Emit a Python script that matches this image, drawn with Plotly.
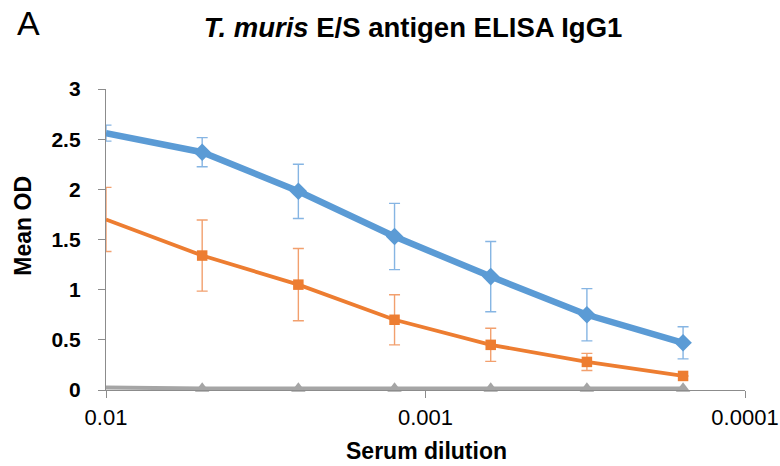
import plotly.graph_objects as go

# Serum dilutions (two-fold series starting at 1:100)
dilution = [0.01, 0.005, 0.0025, 0.00125, 0.000625, 0.0003125, 0.00015625]

# Mean OD per group with error bar half-widths
blue_od = [2.56, 2.37, 1.98, 1.53, 1.13, 0.75, 0.47]
blue_err = [0.08, 0.145, 0.27, 0.33, 0.35, 0.26, 0.16]
orange_od = [1.70, 1.34, 1.05, 0.70, 0.45, 0.28, 0.14]
orange_err = [0.32, 0.355, 0.36, 0.25, 0.165, 0.085, 0.0]
gray_od = [0.025, 0.015, 0.015, 0.015, 0.015, 0.015, 0.015]

x_tickvals = [0.01, 0.001, 0.0001]
x_ticktext = ["0.01", "0.001", "0.0001"]
y_tickvals = [0, 0.5, 1, 1.5, 2, 2.5, 3]
y_ticktext = ["0", "0.5", "1", "1.5", "2", "2.5", "3"]

BLUE = "#5B9BD5"
ORANGE = "#ED7D31"
GRAY = "#A5A5A5"
AXIS = "#8C8C8C"
FONT = "Liberation Sans"

# plot area in pixels
W, H = 780, 466
L, R, T, B = 105.5, 34.5, 89, 76
PW, PH = W - L - R, H - T - B


def px_x(x):
    return (x - L) / PW


def px_y(y):
    return (H - B - y) / PH


fig = go.Figure()

fig.add_trace(go.Scatter(
    x=dilution, y=gray_od, mode="lines+markers",
    line=dict(color=GRAY, width=4),
    marker=dict(symbol="triangle-up", size=12.5, color=GRAY),
    showlegend=False, cliponaxis=False,
))
fig.add_trace(go.Scatter(
    x=dilution, y=orange_od, mode="lines+markers",
    line=dict(color=ORANGE, width=3.8),
    marker=dict(symbol="square", size=10.5, color=ORANGE),
    error_y=dict(type="data", array=orange_err, visible=True,
                 color="#F2A06E", thickness=1.4, width=5.5),
    showlegend=False, cliponaxis=False,
))
fig.add_trace(go.Scatter(
    x=dilution, y=blue_od, mode="lines+markers",
    line=dict(color=BLUE, width=6.5),
    marker=dict(symbol="diamond", size=13.5, color=BLUE),
    error_y=dict(type="data", array=blue_err, visible=True,
                 color="#86B5E3", thickness=1.4, width=5.5),
    showlegend=False, cliponaxis=False,
))

fig.update_layout(
    width=W, height=H,
    margin=dict(l=L, r=R, t=T, b=B),
    paper_bgcolor="white", plot_bgcolor="white",
    font=dict(family=FONT, color="black"),
    title=dict(
        text="<b><i>T. muris</i> E/S antigen ELISA IgG1</b>",
        x=413 / W, xanchor="center", y=1 - 27 / H, yanchor="middle",
        font=dict(size=27.5, family=FONT, color="black"),
    ),
    xaxis=dict(
        type="log", range=[-2, -4], automargin=False,
        tickvals=x_tickvals, ticktext=x_ticktext,
        tickfont=dict(size=22, family=FONT, color="black"),
        ticks="outside", ticklen=7, tickcolor=AXIS, tickwidth=1,
        showline=True, linecolor=AXIS, linewidth=1.3,
        showgrid=False, zeroline=False,
    ),
    yaxis=dict(
        range=[0, 3], automargin=False,
        tickvals=y_tickvals, ticktext=["<b>%s</b>" % t for t in y_ticktext],
        tickfont=dict(size=21, family=FONT, color="black"),
        ticks="outside", ticklen=7, tickcolor=AXIS, tickwidth=1,
        ticklabelstandoff=13,
        showline=True, linecolor=AXIS, linewidth=1.3,
        showgrid=False, zeroline=False,
    ),
)

# axis titles and panel letter
fig.add_annotation(
    text="<b>Serum dilution</b>", xref="paper", yref="paper",
    x=px_x(427), y=px_y(451), xanchor="center", yanchor="middle",
    showarrow=False, font=dict(size=23, family=FONT, color="black"),
)
fig.add_annotation(
    text="<b>Mean OD</b>", xref="paper", yref="paper", textangle=-90,
    x=px_x(22), y=px_y(226), xanchor="center", yanchor="middle",
    showarrow=False, font=dict(size=23, family=FONT, color="black"),
)
fig.add_annotation(
    text="A", xref="paper", yref="paper",
    x=px_x(14), y=px_y(23), xanchor="left", yanchor="middle",
    showarrow=False, font=dict(size=34, family=FONT, color="black"),
)

fig.write_html("out.html")
